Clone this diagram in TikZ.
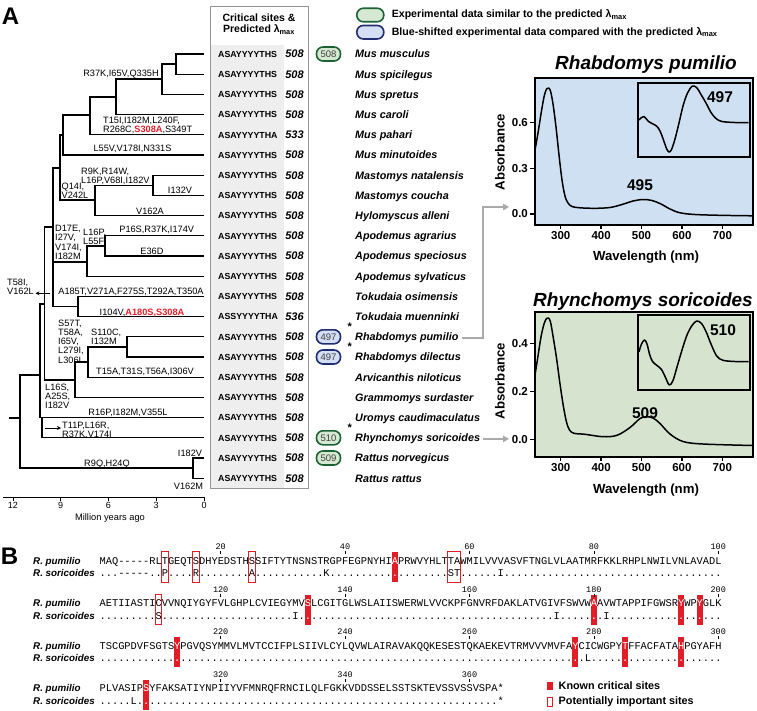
\documentclass[tikz,border=0pt]{standalone}
\usepackage{fontspec}
\setmainfont{Liberation Sans}
\setsansfont{Liberation Sans}
\setmonofont{Liberation Mono}
\usetikzlibrary{arrows.meta,positioning}

\ExplSyntaxOn
\NewDocumentCommand\dotrun{m}{\prg_replicate:nn{#1}{.}}
\ExplSyntaxOff
\newcommand\fsz[1]{\fontsize{#1}{#1}\selectfont}
\newcommand\lmax{λ\textsubscript{max}}
\newcommand\wt[1]{\textcolor{white}{#1}}

\definecolor{ovgfill}{RGB}{212,232,210}
\definecolor{ovgline}{RGB}{28,98,52}
\definecolor{ovbfill}{RGB}{212,222,244}
\definecolor{ovbline}{RGB}{34,44,112}
\definecolor{plotblue}{RGB}{207,224,242}
\definecolor{plotgreen}{RGB}{213,227,207}
\definecolor{sitered}{RGB}{225,30,40}
\definecolor{tabgray}{RGB}{238,238,238}
\definecolor{tabline}{RGB}{150,150,150}
\definecolor{linkgray}{RGB}{170,170,170}

\tikzset{
  branch/.style={line width=1.3pt},
  mut/.style={font=\fontsize{9.2}{9.3}\selectfont, inner sep=0pt, align=left, anchor=north west},
  mutc/.style={font=\fsz{9.2}, inner sep=0pt, anchor=base},
  mutarrow/.style={line width=0.7pt, -{Stealth[length=4pt,width=4pt]}},
  seqtxt/.style={font=\bfseries\fsz{8.8}, inner sep=0pt, anchor=base west},
  lamtxt/.style={font=\bfseries\itshape\fsz{11}, inner sep=0pt, anchor=base},
  sptxt/.style={font=\bfseries\itshape\fsz{10.8}, inner sep=0pt, anchor=base west},
  lamoval/.style={draw, line width=1.6pt, rounded corners=6.5pt, minimum width=24pt, minimum height=14pt, inner sep=0pt, font=\fsz{9.5}, text=black!75},
  ovg/.style={lamoval, fill=ovgfill, draw=ovgline},
  ovb/.style={lamoval, fill=ovbfill, draw=ovbline},
  legtxt/.style={font=\bfseries\fsz{10.6}, inner sep=0pt, anchor=west},
  plotframe/.style={line width=1.8pt},
  axtick/.style={line width=1.3pt},
  ticklab/.style={font=\bfseries\fsz{11.5}, inner sep=1.5pt},
  axlab/.style={font=\bfseries\fsz{13.2}, inner sep=0pt},
  peaklab/.style={font=\bfseries\fsz{15.5}, inner sep=0pt},
  ptitle/.style={font=\bfseries\itshape\fsz{19}, inner sep=0pt},
  spec/.style={line width=1.5pt, line join=round},
  linkarr/.style={draw=linkgray, line width=1.6pt, -{Triangle[length=6pt,width=6.5pt]}},
  aln/.style={font=\ttfamily\fsz{10.365}, inner sep=0pt, anchor=base west},
  alnlab/.style={font=\bfseries\itshape\fsz{9.8}, inner sep=0pt, anchor=base west},
  resnum/.style={font=\ttfamily\fsz{8.5}, inner sep=0pt, anchor=base},
  known/.style={fill=sitered},
  maybe/.style={draw=sitered, line width=0.8pt},
}

\begin{document}
\begin{tikzpicture}[x=1pt,y=-1pt]
\useasboundingbox (0,0) rectangle (757,710);

% panel letters
\node[font=\bfseries\fsz{24}, inner sep=0pt] (pA) at (10.5,16.5) {A};
\node[font=\bfseries\fsz{24}, inner sep=0pt] (pB) at (9.5,556) {B};

% table of critical sites
\fill[tabgray] (210,44.5) rectangle (283.5,488);
\draw[tabline, line width=0.8pt] (210,6.5) rectangle (308,488);
\node[font=\bfseries\fontsize{10.5}{11.5}\selectfont, align=center, inner sep=0pt] (head) at (259,24) {Critical sites \&\\Predicted \lmax};

\foreach \sp/\sq/\lam [count=\n] in {
  Mus musculus/ASAYYYYTHS/508, Mus spicilegus/ASAYYYYTHS/508, Mus spretus/ASAYYYYTHS/508,
  Mus caroli/ASAYYYYTHS/508, Mus pahari/ASAYYYYTHA/533, Mus minutoides/ASAYYYYTHS/508,
  Mastomys natalensis/ASAYYYYTHS/508, Mastomys coucha/ASAYYYYTHS/508, Hylomyscus alleni/ASAYYYYTHS/508,
  Apodemus agrarius/ASAYYYYTHS/508, Apodemus speciosus/ASAYYYYTHS/508, Apodemus sylvaticus/ASAYYYYTHS/508,
  Tokudaia osimensis/ASAYYYYTHS/508, Tokudaia muenninki/ASSYYYYTHA/536, Rhabdomys pumilio/ASAYYYYTHS/508,
  Rhabdomys dilectus/ASAYYYYTHS/508, Arvicanthis niloticus/ASAYYYYTHS/508, Grammomys surdaster/ASAYYYYTHS/508,
  Uromys caudimaculatus/ASAYYYYTHS/508, Rhynchomys soricoides/ASAYYYYTHS/508, Rattus norvegicus/ASAYYYYTHS/508,
  Rattus rattus/ASAYYYYTHS/508}
{
  \pgfmathsetmacro\yy{54+20.2*(\n-1)}
  \coordinate (T\n) at (204,\yy);
  \node[seqtxt] (Q\n) at (218,\yy+3.2) {\sq};
  \node[lamtxt] (L\n) at (294.5,\yy+3.9) {\lam};
  \node[sptxt] (P\n) at (355,\yy+3.9) {\sp};
}

% measured lambda max
\node[ovg] (E1) at (328.5,54) {508};
\node[ovb] (E15) at (328.5,336.8) {497};
\node[ovb] (E16) at (328.5,357) {497};
\node[ovg] (E20) at (328.5,437.8) {510};
\node[ovg] (E21) at (328.5,458) {509};
\foreach \m in {15,16,20}
  \node[font=\bfseries\fsz{11}, inner sep=0pt] (st\m) at ([xshift=8.5pt,yshift=10pt]E\m.east) {*};

% legend
\node[ovg, minimum width=27pt, minimum height=13.5pt] (LG) at (370.3,15) {};
\node[ovb, minimum width=27pt, minimum height=13.5pt] (LB) at (370.3,32.2) {};
\node[legtxt, right=7pt of LG] (LGt) {Experimental data similar to the predicted \lmax};
\node[legtxt, right=7pt of LB] (LBt) {Blue-shifted experimental data compared with the predicted \lmax};

% tree
\coordinate (n12) at (176,64.1);
\coordinate (n123) at (162,79);
\coordinate (n1234) at (116,97);
\coordinate (n12345) at (90,115);
\coordinate (nMus) at (63,135);
\coordinate (n78) at (153,185.3);
\coordinate (n789) at (95,200);
\coordinate (nMM) at (60,168);
\coordinate (n1011) at (105,246);
\coordinate (nApo) at (87,262);
\coordinate (nTok) at (78,306.5);
\coordinate (nA) at (53,227);
\coordinate (nRh) at (127,347);
\coordinate (nRhA) at (88,362);
\coordinate (nRhAG) at (75,380);
\coordinate (nB) at (44.5,304);
\coordinate (nC) at (40,375);
\coordinate (nRy) at (42,417.6);
\coordinate (nRat) at (193,468);
\coordinate (nR) at (20,418);

\draw[branch] (T1) -| (n12) |- (T2);
\draw[branch] (n12) -| (n123) |- (T3);
\draw[branch] (n123) -| (n1234) |- (T4);
\draw[branch] (n1234) -| (n12345) |- (T5);
\draw[branch] (n12345) -| (nMus) |- (T6);
\draw[branch] (T7) -| (n78) |- (T8);
\draw[branch] (n78) -| (n789) |- (T9);
\draw[branch] (nMus) -| (nMM) |- (n789);
\draw[branch] (T10) -| (n1011) |- (T11);
\draw[branch] (n1011) -| (nApo) |- (T12);
\draw[branch] (T13) -| (nTok) |- (T14);
\draw[branch] (nMM) -| (nA) |- (nTok);
\draw[branch] (nApo) -- (nApo -| nA);
\draw[branch] (T15) -| (nRh) |- (T16);
\draw[branch] (nRh) -| (nRhA) |- (T17);
\draw[branch] (nRhA) -| (nRhAG) |- (T18);
\draw[branch] (nA) -| (nB) |- (nRhAG);
\draw[branch] (nB) -| (nC) |- (T19);
\draw[branch] (nRy) |- (T20);
\draw[branch] (T21) -| (nRat) |- (T22);
\draw[branch] (nC) -| (nR) |- (nRat);
\draw[branch] (nR) -- ++(-11,0);

% substitutions on branches
\node[mutc] (mR37K) at (121,76.3) {R37K,I65V,Q335H};
\node[mut] (mT15I) at (103,116.7) {T15I,I182M,L240F,\\R268C,{\color{sitered}\bfseries S308A},S349T};
\node[mutc] (mL55V) at (132.5,151.6) {L55V,V178I,N331S};
\node[mut] (mR9K) at (81,167.7) {R9K,R14W,\\L16P,V68I,I182V};
\node[mutc] (mI132V) at (180,193.3) {I132V};
\node[mutc] (mV162A) at (150,214) {V162A};
\node[mut] (mQ14I) at (61.5,183) {Q14I,\\V242L};
\node[mut] (mD17E) at (55,225) {D17E,\\I27V,\\V174I,\\I182M};
\node[mut] (mL16P) at (83,228.4) {L16P,\\L55F};
\node[mutc] (mP16S) at (156.7,232.6) {P16S,R37K,I174V};
\node[mutc] (mE36D) at (152,254) {E36D};
\node[mut] (mT58I) at (7,278.7) {T58I,\\V162L};
\node[mutc] (mA185T) at (131,294) {A185T,V271A,F275S,T292A,T350A};
\node[mutc] (mI104V) at (142,315) {I104V,{\color{sitered}\bfseries A180S,S308A}};
\node[mut] (mS57T) at (58,319.4) {S57T,\\T58A,\\I65V,\\L279I,\\L306I};
\node[mut] (mS110C) at (91,328.4) {S110C,\\I132M};
\node[mutc] (mT15A) at (145,374.3) {T15A,T31S,T56A,I306V};
\node[mut] (mL16S) at (45,383.7) {L16S,\\A25S,\\I182V};
\node[mutc] (mR16P) at (128,415) {R16P,I182M,V355L};
\node[mut] (mT11P) at (62,421.7) {T11P,L16R,\\R37K,V174I};
\node[mutc] (mR9Q) at (107,466.6) {R9Q,H24Q};
\node[mutc] (mI182V) at (190,456) {I182V};
\node[mutc] (mV162M) at (188.5,489.3) {V162M};
\coordinate (a1) at (50,293.3);
\coordinate (a2) at (45,428);
\draw[mutarrow] (a1) -- ([xshift=1.5pt]mT58I.east |- a1);
\draw[mutarrow] (a2) -- ([xshift=-1pt]mT11P.west |- a2);

% time axis
\draw[line width=0.8pt] (3,497) -- (204,497);
\foreach \t in {12,9,6,3,0}
  \draw[line width=0.8pt] ({204-15.92*\t},497) -- ++(0,4) node[below, inner sep=1pt, font=\fsz{9}] {\t};
\node[font=\fsz{9.3}, inner sep=0pt, anchor=base] (myr) at (110,520.5) {Million years ago};

% spectrum of Rhabdomys pumilio
\node[ptitle] (tt1) at (646,65) {Rhabdomys pumilio};
\fill[plotblue] (535,78) rectangle (753,225);
\draw[spec] plot[smooth, tension=0.55] coordinates {(535,150) (538,133) (541,114) (544,97) (546.5,89) (548.5,88) (550.5,91) (553,104) (556,127) (559,155) (562,180) (565,196) (568,203) (572,206.5) (580,207.8) (595,208.3) (610,207.5) (622,204.5) (633,201) (643,199.5) (652,200.5) (661,204) (670,209) (680,212.8) (695,214.5) (720,215.3) (753,215.8)};
\draw[plotframe] (638,83) rectangle (750,157);
\draw[spec] plot[smooth, tension=0.55] coordinates {(639,120) (641.5,117.5) (644,116.5) (646,118.5) (648.5,121.5) (652,123.5) (656.5,126) (660,131) (663.5,140) (666.5,148.5) (669,152) (671.5,149.5) (675,139) (679,123) (683,106) (687.5,93) (692.5,86) (697,88) (701,94.5) (706,103) (711,112.5) (716,118.5) (722,121.5) (735,122.5) (748.5,122.7)};
\draw[plotframe] (535,78) rectangle (753,225);
\node[peaklab] (pk1) at (720,97) {497};
\node[peaklab] (pk2) at (640,185) {495};
\foreach \v/\yv in {0.0/214, 0.3/168.3, 0.6/122.7}
  \draw[axtick] (535,\yv) -- (530,\yv) node[left, ticklab] {\v};
\foreach \w in {300,400,...,700}
  \draw[axtick] ({560.7+(\w-300)*0.404},225) -- ++(0,4) node[below, ticklab] {\w};
\node[axlab, rotate=90] (ab1) at (500,152) {Absorbance};
\node[axlab] (wl1) at (646,257) {Wavelength (nm)};

% spectrum of Rhynchomys soricoides
\node[ptitle] (tt2) at (643,302) {Rhynchomys soricoides};
\fill[plotgreen] (535,312) rectangle (753,457);
\draw[spec] plot[smooth, tension=0.55] coordinates {(535,375) (538,356) (541,337) (544,324) (546.5,318.5) (548.5,318) (550.5,322) (553,336) (556.5,358) (560,384) (563.5,407) (566.5,422) (569.5,430) (574,433.3) (585,434.3) (603,436.7) (617,435.3) (630,427.5) (640,418.5) (646,416.7) (653,418) (660,423.5) (670,434) (683,441.5) (703,444) (753,445.5)};
\draw[plotframe] (638,315) rectangle (750,390);
\draw[spec] plot[smooth, tension=0.55] coordinates {(639,351.7) (641.5,344) (644.5,340) (647,344) (649.5,354) (652.5,361.5) (657,365.5) (661.5,369.5) (665.5,377.5) (669.3,385) (673,380.5) (677,367) (682,350) (687,335) (692,325.5) (696.7,321) (701.5,323.5) (706,331.5) (711,344) (716.7,356) (723,360.3) (735,361.5) (748.5,361.7)};
\draw[plotframe] (535,312) rectangle (753,457);
\node[peaklab] (pk3) at (723,330) {510};
\node[peaklab] (pk4) at (645,413.3) {509};
\foreach \v/\yv in {0.0/439.3, 0.2/391.7, 0.4/343.3}
  \draw[axtick] (535,\yv) -- (530,\yv) node[left, ticklab] {\v};
\foreach \w in {300,400,...,700}
  \draw[axtick] ({560.7+(\w-300)*0.404},457) -- ++(0,4) node[below, ticklab] {\w};
\node[axlab, rotate=90] (ab2) at (500,381) {Absorbance};
\node[axlab] (wl2) at (646,490) {Wavelength (nm)};

% links from species to spectra
\coordinate (j1) at (483,207);
\coordinate (k1) at (509,207);
\coordinate (k2) at (509,439);
\draw[linkarr] ([xshift=3pt]P15.east) -| (j1) -- (k1);
\draw[linkarr] ([xshift=3pt]P20.east) -- (P20.east -| k2);

% alignment
\foreach \b [count=\k] in {564,606.5,649,691.5} {
  \node[alnlab] (rp\k) at (33,\b) {R. pumilio};
  \node[alnlab] (rs\k) at (33,\b+12.7) {R. soricoides};
}
\foreach \b/\c in {564/48, 606.5/34, 606.5/80, 606.5/94, 606.5/97, 649/13, 649/77, 649/85, 649/94, 691.5/8}
  \fill[known] ({102.5+(\c-1)*6.22-3.1},\b-11.7) rectangle ({102.5+(\c-1)*6.22+3.1},\b+18.2);
\foreach \b/\c/\w in {564/11/1, 564/16/1, 564/25/1, 564/57/2, 606.5/10/1}
  \draw[maybe] ({102.5+(\c-1)*6.22-3.2},\b-12.5) rectangle ({102.5+(\c+\w-2)*6.22+3.2},\b+18);

\node[aln] (s1a) at (99.4,564) {MAQ-{}-{}-{}-{}-RLTGEQTSDHYEDSTHSSIFTYTNSNSTRGPFEGPNYHI\wt{A}PRWVYHLTTAWMILVVVASVFTNGLVLAATMRFKKLRHPLNWILVNLAVADL};
\node[aln] (s1b) at (99.4,576.7) {\dotrun{3}-{}-{}-{}-{}-\dotrun{2}P\dotrun{4}R\dotrun{8}A\dotrun{11}K\dotrun{10}\wt{.}\dotrun{8}ST\dotrun{6}I\dotrun{35}};
\node[aln] (s2a) at (99.4,606.5) {AETIIASTICVVNQIYGYFVLGHPLCVIEGYMV\wt{S}LCGITGLWSLAIISWERWLVVCKPFGNVRFDAKLATVGIVFSWVW\wt{A}AVWTAPPIFGWSR\wt{Y}WP\wt{Y}GLK};
\node[aln] (s2b) at (99.4,619.2) {\dotrun{9}S\dotrun{21}I.\wt{.}\dotrun{39}I\dotrun{5}\wt{.}.I\dotrun{11}\wt{.}..\wt{.}\dotrun{3}};
\node[aln] (s3a) at (99.4,649) {TSCGPDVFSGTS\wt{Y}PGVQSYMMVLMVTCCIFPLSIIVLCYLQVWLAIRAVAKQQKESESTQKAEKEVTRMVVVMVFA\wt{Y}CICWGPY\wt{T}FFACFATA\wt{H}PGYAFH};
\node[aln] (s3b) at (99.4,661.7) {\dotrun{12}\wt{.}\dotrun{63}\wt{.}.L\dotrun{5}\wt{.}\dotrun{8}\wt{.}\dotrun{6}};
\node[aln] (s4a) at (99.4,691.5) {PLVASIP\wt{S}YFAKSATIYNPIIYVFMNRQFRNCILQLFGKKVDDSSELSSTSKTEVSSVSSVSPA*};
\node[aln] (s4b) at (99.4,704.2) {\dotrun{5}L.\wt{.}\dotrun{56}*};

\foreach \b/\off/\last in {564/0/100, 606.5/100/100, 649/200/100, 691.5/300/60}
  \foreach \c in {20,40,...,\last} {
    \pgfmathtruncatemacro\num{\c+\off}
    \draw[line width=0.5pt] ({102.5+(\c-1)*6.22},\b-13) -- ({102.5+(\c-1)*6.22},\b-10);
    \node[resnum] at ({102.5+(\c-1)*6.22},\b-14.5) {\num};
  }

% legend of sites
\fill[known] (546.7,681.7) rectangle (552.9,690.3);
\node[font=\bfseries\fsz{10.8}, inner sep=0pt, anchor=west] (kn) at (558.5,686) {Known critical sites};
\draw[maybe] (547,697.3) rectangle (552.6,706.5);
\node[font=\bfseries\fsz{10.8}, inner sep=0pt, anchor=west] (pi) at (558.5,702) {Potentially important sites};
\end{tikzpicture}
\end{document}
